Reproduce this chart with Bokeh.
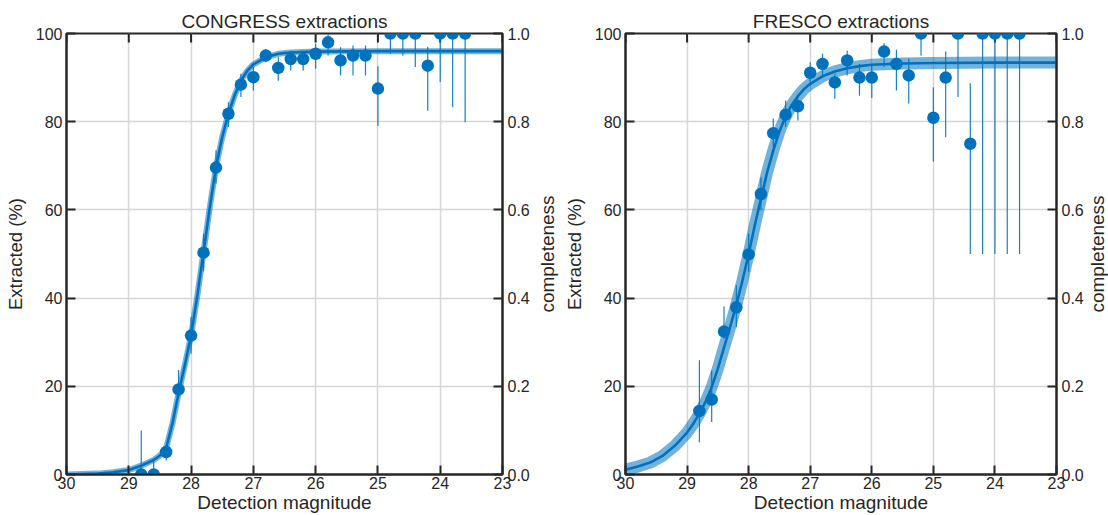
from bokeh.plotting import figure
from bokeh.models import Range1d, LinearAxis, FixedTicker, PrintfTickFormatter
from bokeh.core.properties import value
from bokeh.layouts import row
from bokeh.embed import file_html
from bokeh.resources import INLINE

# ---------------- data ----------------
x_ticks = [30, 29, 28, 27, 26, 25, 24, 23]
y_ticks = [0, 20, 40, 60, 80, 100]
c_ticks = [0.0, 0.2, 0.4, 0.6, 0.8, 1.0]

mag_bins = [28.8, 28.6, 28.4, 28.2, 28.0, 27.8, 27.6, 27.4, 27.2, 27.0,
            26.8, 26.6, 26.4, 26.2, 26.0, 25.8, 25.6, 25.4, 25.2, 25.0,
            24.8, 24.6, 24.4, 24.2, 24.0, 23.8, 23.6]

congress_pct = [0.0, 0.0, 5.1, 19.3, 31.5, 50.3, 69.6, 81.8, 88.4, 90.1,
                95.0, 92.2, 94.2, 94.2, 95.4, 98.0, 93.9, 95.0, 95.0, 87.5,
                100, 100, 100, 92.7, 100, 100, 100]
congress_lo = [0.0, 0.0, 3.2, 17.5, 27.4, 46.1, 66.0, 78.8, 85.6, 87.1,
               93.5, 89.3, 91.6, 91.6, 92.0, 95.0, 90.5, 90.5, 90.5, 79.1,
               95.4, 95.0, 92.4, 82.5, 89.0, 83.3, 79.9]
congress_hi = [10.0, 3.0, 6.6, 23.7, 35.7, 54.6, 73.5, 84.4, 90.9, 92.4,
               96.5, 94.6, 96.1, 96.1, 97.7, 99.9, 96.9, 97.3, 97.3, 92.6,
               100, 100, 100, 97.0, 100, 100, 100]

fresco_pct = [14.4, 17.0, 32.4, 37.9, 49.9, 63.6, 77.4, 81.6, 83.5, 91.1,
              93.1, 88.9, 93.9, 90.0, 90.0, 95.9, 93.1, 90.5, 100, 80.9,
              90.0, 100, 75.0, 100, 100, 100, 100]
fresco_lo = [7.3, 11.9, 30.8, 33.4, 45.9, 59.9, 74.2, 78.8, 80.3, 88.2,
             90.5, 85.2, 90.5, 85.9, 85.4, 92.4, 87.1, 84.1, 95.0, 71.0,
             76.5, 85.6, 50.0, 50.0, 50.0, 50.0, 50.0]
fresco_hi = [25.9, 23.6, 38.1, 42.9, 54.6, 67.4, 80.7, 84.8, 85.6, 93.5,
             95.4, 90.9, 96.1, 93.1, 93.1, 97.8, 96.3, 94.3, 100, 87.8,
             95.9, 100, 88.7, 100, 100, 100, 100]

# completeness fits
congress_fit_mag = [30.0, 29.5, 29.25, 29.0, 28.8, 28.6, 28.5, 28.4, 28.3, 28.2,
                    28.1, 28.0, 27.9, 27.8, 27.7, 27.6, 27.5, 27.4, 27.3, 27.2,
                    27.1, 27.0, 26.8, 26.6, 26.4, 26.0, 25.0, 23.0]
congress_fit_pct = [0.0, 0.2, 0.5, 1.0, 2.0, 3.3, 4.3, 6.0, 11.5, 18.5,
                    24.8, 31.5, 40.5, 50.4, 60.5, 69.7, 76.5, 81.8, 86.0, 89.3,
                    91.5, 93.0, 94.6, 95.4, 95.7, 95.9, 96.0, 96.0]

fresco_fit_mag = [30.0, 29.8, 29.6, 29.4, 29.2, 29.0, 28.9, 28.8, 28.7, 28.6,
                  28.5, 28.4, 28.3, 28.2, 28.1, 28.0, 27.9, 27.8, 27.7, 27.6,
                  27.5, 27.4, 27.3, 27.2, 27.1, 27.0, 26.8, 26.6, 26.4, 26.2,
                  26.0, 25.5, 25.0, 24.0, 23.0]
fresco_fit_pct = [1.1, 1.8, 2.7, 4.2, 6.5, 9.5, 11.5, 13.8, 16.5, 19.8,
                  24.0, 28.8, 33.5, 38.5, 44.0, 50.0, 56.5, 62.5, 68.5, 73.5,
                  77.8, 81.2, 83.8, 85.8, 87.4, 88.6, 90.3, 91.4, 92.1, 92.6,
                  92.9, 93.2, 93.3, 93.4, 93.4]

# ---------------- style ----------------
FONT = "Liberation Sans"
BLUE = "#0072BD"
INK = "#262626"
GRID = "#d6d6d6"
H = 515
TOP, BOTTOM = 33, 41


def panel(title, pct, lo, hi, fit_mag, fit_pct, band_w, width, bl, br):
    p = figure(width=width, height=H,
               x_range=Range1d(30, 23), y_range=Range1d(0, 100),
               output_backend="svg", toolbar_location=None,
               min_border_left=bl, min_border_right=br,
               min_border_top=TOP, min_border_bottom=BOTTOM,
               title=title)
    p.extra_y_ranges = {"c": Range1d(0, 1)}
    right = LinearAxis(y_range_name="c", ticker=FixedTicker(ticks=c_ticks),
                       formatter=PrintfTickFormatter(format="%.1f"))
    p.add_layout(right, "right")

    bottom = p.below[0]
    left = p.left[0]
    bottom.ticker = FixedTicker(ticks=x_ticks)
    left.ticker = FixedTicker(ticks=y_ticks)
    bottom.axis_label = "Detection magnitude"
    left.axis_label = "Extracted (%)"

    for ax in (bottom, left, right):
        ax.major_tick_in = 9
        ax.major_tick_out = 0
        ax.minor_tick_in = 0
        ax.minor_tick_out = 0
        ax.axis_line_color = INK
        ax.axis_line_width = 2
        ax.major_tick_line_color = INK
        ax.major_tick_line_width = 2
        ax.major_label_text_font = FONT
        ax.major_label_text_font_size = "16px"
        ax.major_label_text_color = INK
        ax.major_label_text_line_height = 1.0
        ax.axis_label_text_font = FONT
        ax.axis_label_text_font_style = "normal"
        ax.axis_label_text_color = INK
        ax.axis_label_text_line_height = 1.0
    bottom.axis_label_text_font_size = "19px"
    left.axis_label_text_font_size = "18.5px"
    bottom.major_label_standoff = 2
    bottom.axis_label_standoff = 0
    left.major_label_standoff = 4
    left.axis_label_standoff = 7
    right.major_label_standoff = 5

    p.xgrid.ticker = FixedTicker(ticks=x_ticks)
    p.ygrid.ticker = FixedTicker(ticks=y_ticks)
    p.grid.grid_line_color = GRID
    p.grid.grid_line_width = 1.5
    p.outline_line_color = INK
    p.outline_line_width = 2

    p.title.text_font = FONT
    p.title.text_font_size = "19px"
    p.title.text_font_style = "normal"
    p.title.text_color = INK
    p.title.align = "center"
    p.title.standoff = 4

    # inward ticks on the top edge of the box
    p.ray(x=x_ticks, y=[y_ticks[-1]] * len(x_ticks), length=9, length_units="screen",
          angle=-90, angle_units="deg", line_color=INK, line_width=2)

    p.line(fit_mag, fit_pct, line_width=band_w, line_color=BLUE, line_alpha=0.55,
           line_join="round")
    p.line(fit_mag, fit_pct, line_width=2.6, line_color=BLUE, line_join="round")
    p.segment(x0=mag_bins, y0=lo, x1=mag_bins, y1=hi,
              line_color=BLUE, line_width=1.2, line_alpha=0.9)
    p.scatter(mag_bins, pct, size=12.5, fill_color=BLUE, line_color=BLUE,
              line_width=0)
    return p


def side_title(text, width):
    """narrow strip holding the right-hand axis title, reading upwards"""
    s = figure(width=width, height=H, x_range=Range1d(0, 1), y_range=Range1d(0, 100),
               x_axis_type=None, y_axis_type=None,
               output_backend="svg", toolbar_location=None,
               min_border_left=0, min_border_right=0,
               min_border_top=TOP, min_border_bottom=BOTTOM)
    s.outline_line_color = None
    s.grid.visible = False
    s.text(x=[0.5], y=[50], text=[text], angle=90, angle_units="deg",
           text_align="center", text_baseline="middle",
           text_font=value(FONT), text_font_size="19px", text_color=INK)
    return s


p1 = panel("CONGRESS extractions", congress_pct, congress_lo, congress_hi,
           congress_fit_mag, congress_fit_pct, 6, 534, 66, 32)
s1 = side_title("completeness", 26)
p2 = panel("FRESCO extractions", fresco_pct, fresco_lo, fresco_hi,
           fresco_fit_mag, fresco_fit_pct, 12, 526, 64, 28)
s2 = side_title("completeness", 22)

layout = row(p1, s1, p2, s2)
open("out.html", "w").write(file_html(layout, INLINE))
